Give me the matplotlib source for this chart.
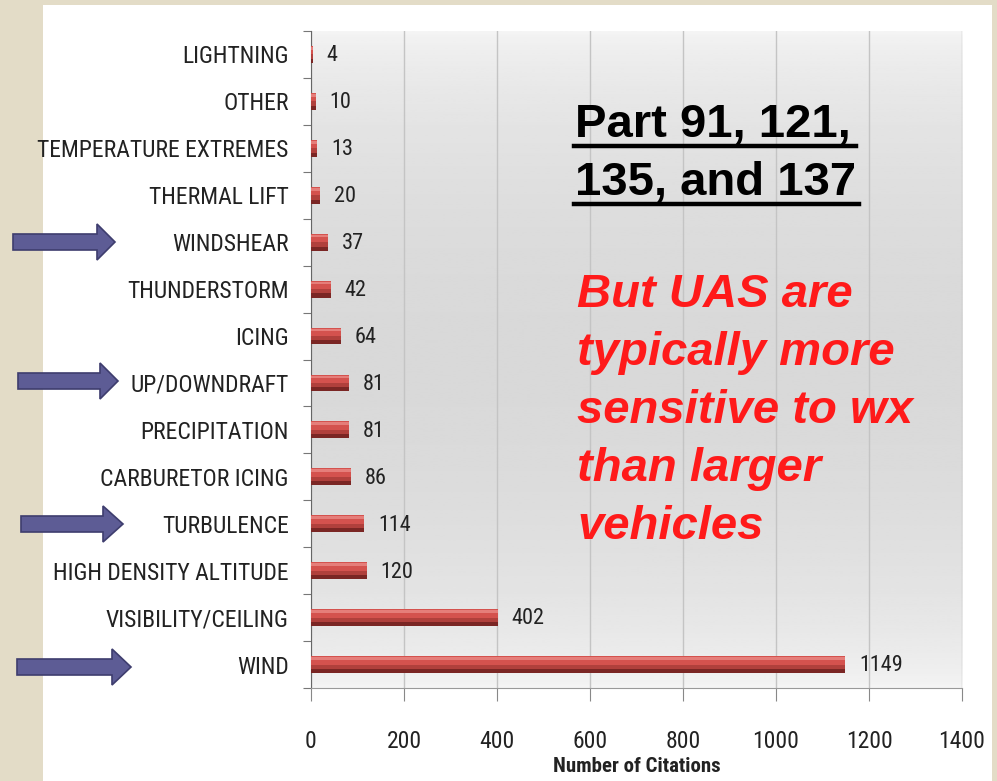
import matplotlib
matplotlib.use('Agg')
import matplotlib.pyplot as plt
import numpy as np
from matplotlib.patches import Rectangle, Polygon
from matplotlib import font_manager

# data, top to bottom as in the chart
categories = ['LIGHTNING', 'OTHER', 'TEMPERATURE EXTREMES', 'THERMAL LIFT', 'WINDSHEAR',
              'THUNDERSTORM', 'ICING', 'UP/DOWNDRAFT', 'PRECIPITATION', 'CARBURETOR ICING',
              'TURBULENCE', 'HIGH DENSITY ALTITUDE', 'VISIBILITY/CEILING', 'WIND']
citations = [4, 10, 13, 20, 37, 42, 64, 81, 81, 86, 114, 120, 402, 1149]
xticks = [0, 200, 400, 600, 800, 1000, 1200, 1400]
arrowed = ['WINDSHEAR', 'UP/DOWNDRAFT', 'TURBULENCE', 'WIND']

# pick a narrow font if one is installed
names = sorted(set(f.name for f in font_manager.fontManager.ttflist))
narrow = None
for cand in ['Liberation Sans Narrow', 'Arial Narrow', 'Roboto Condensed', 'Open Sans Condensed',
             'DejaVu Sans Condensed']:
    if cand in names:
        narrow = cand
        break
if narrow is None:
    plt.rcParams['font.family'] = ['DejaVu Sans']
    plt.rcParams['font.stretch'] = 'condensed'
else:
    plt.rcParams['font.family'] = [narrow, 'DejaVu Sans']

W, H = 997, 781
fig = plt.figure(figsize=(W / 100, H / 100), dpi=100, facecolor='#e3dcc7')
# white slide panel
fig.patches.append(Rectangle((43 / W, 0), (992 - 43) / W, 1 - 5 / H, transform=fig.transFigure,
                             facecolor='white', edgecolor='none', zorder=-5))

ax = fig.add_axes([311 / W, 1 - 688 / H, (962 - 311) / W, (688 - 31) / H])
ax.set_zorder(2)
ax.set_facecolor('none')

# gradient plot background
grad = np.linspace(0, 1, 256).reshape(-1, 1)
ax.imshow(0.96 - 0.11 * np.sin(grad * np.pi) ** 0.6, aspect='auto', cmap='gray', vmin=0, vmax=1,
          extent=[0, 1400, 13.5, -0.5], zorder=0)

y = np.arange(len(categories))
h = 0.36
ax.barh(y, citations, height=h, color='#d4524e', edgecolor='none', zorder=3)
ax.barh(y - h * 0.36, citations, height=h * 0.16, color='#e57e7a', edgecolor='none', zorder=3)
ax.barh(y + h * 0.25, citations, height=h * 0.5, color='#b0403c', edgecolor='none', zorder=3)
ax.barh(y + h * 0.38, citations, height=h * 0.24, color='#7a2624', edgecolor='none', zorder=3)

for yi, v in zip(y, citations):
    ax.annotate(str(v), (v, yi), xytext=(10, -1), textcoords='offset points', va='center',
                ha='left', fontsize=16, color='#222222')

ax.set_xlim(0, 1400)
ax.set_ylim(13.5, -0.5)
ax.set_xticks(xticks)
ax.set_xticklabels([str(t) for t in xticks], fontsize=17, color='#222222')
ax.tick_params(axis='x', length=9, width=0.8, color='#888888', pad=21, direction='out')
ax.set_yticks(y)
ax.set_yticklabels(categories, fontsize=17, color='#222222')
ax.tick_params(axis='y', length=0, pad=16)
ax.set_yticks(np.arange(-0.5, 14, 1), minor=True)
ax.tick_params(axis='y', which='minor', length=6, width=0.8, color='#777777')
ax.grid(axis='x', color='#c4c4c4', linewidth=1, zorder=1)
ax.set_axisbelow(True)
for s in ['top', 'right']:
    ax.spines[s].set_visible(False)
ax.spines['left'].set_color('#666666')
ax.spines['bottom'].set_color('#999999')
ax.set_xlabel('Number of Citations', fontsize=15, fontweight='bold', labelpad=3, color='#222222')

# heading text on the right
for txt, base, x1 in [('Part 91, 121,', 137, 856), ('135, and 137', 195, 859)]:
    fig.text(575 / W, 1 - base / H, txt, fontsize=34, fontweight='bold',
             family='Liberation Sans', va='baseline', ha='left', zorder=6)
    fig.add_artist(plt.Line2D([574 / W, x1 / W], [1 - (base + 9) / H, 1 - (base + 9) / H],
                              color='black', linewidth=3.2, transform=fig.transFigure, zorder=6))

red_lines = ['But UAS are', 'typically more', 'sensitive to wx', 'than larger', 'vehicles']
for i, line in enumerate(red_lines):
    fig.text(577 / W, 1 - (307 + 58 * i) / H, line, fontsize=34, fontweight='bold',
             style='italic', color='#ff1a1a', family='Liberation Sans',
             va='baseline', ha='left', zorder=6)

# arrows pointing at key labels (pixel geometry)
arrow_px = {'WINDSHEAR': (13, 97, 115, 242), 'UP/DOWNDRAFT': (18, 100, 118, 381),
            'TURBULENCE': (21, 103, 123, 524), 'WIND': (17, 112, 131, 667)}
for name in arrowed:
    x0, xb, xt, cy = arrow_px[name]
    pts = [(x0, cy - 8), (xb, cy - 8), (xb, cy - 18), (xt, cy), (xb, cy + 18),
           (xb, cy + 8), (x0, cy + 8)]
    pts = [(px / 100, (H - py) / 100) for px, py in pts]
    fig.patches.append(Polygon(pts, closed=True, transform=fig.dpi_scale_trans,
                               facecolor='#5d5c95', edgecolor='#3e3d6e', linewidth=1.2,
                               zorder=5))

fig.savefig('out.png', dpi=100, facecolor=fig.get_facecolor())
